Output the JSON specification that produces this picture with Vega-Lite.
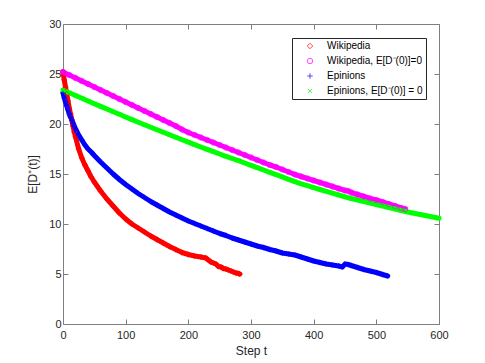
{
 "$schema": "https://vega.github.io/schema/vega-lite/v6.json",
 "width": 376, "height": 300,
 "autosize": {"type": "none"},
 "padding": {"left": 63, "top": 24, "right": 46, "bottom": 39},
 "background": "white",
 "config": {
  "font": "Liberation Sans",
  "view": {"stroke": "#7f7f7f", "strokeWidth": 1},
  "axis": {"domain": false, "grid": false, "labelFlush": false, "labelOverlap": false, "tickColor": "#7f7f7f", "tickSize": -5, "labelColor": "#262626", "labelFontSize": 11, "titleColor": "#262626", "titleFontSize": 12, "titleFontWeight": "normal", "labelFont": "Liberation Sans", "titleFont": "Liberation Sans"}
 },
 "data": {"values": [
  {"s":"Wikipedia","t":0,"v":25.2},{"s":"Wikipedia","t":2,"v":24.4},{"s":"Wikipedia","t":4,"v":23.7},{"s":"Wikipedia","t":6,"v":23.0},{"s":"Wikipedia","t":8,"v":22.3},{"s":"Wikipedia","t":10,"v":21.6},{"s":"Wikipedia","t":12,"v":21.0},{"s":"Wikipedia","t":14,"v":20.4},{"s":"Wikipedia","t":16,"v":19.8},{"s":"Wikipedia","t":18,"v":19.2},{"s":"Wikipedia","t":20,"v":18.7},{"s":"Wikipedia","t":25,"v":17.5},{"s":"Wikipedia","t":30,"v":16.6},{"s":"Wikipedia","t":35,"v":15.9},{"s":"Wikipedia","t":40,"v":15.3},{"s":"Wikipedia","t":45,"v":14.7},{"s":"Wikipedia","t":50,"v":14.2},{"s":"Wikipedia","t":60,"v":13.3},{"s":"Wikipedia","t":70,"v":12.5},{"s":"Wikipedia","t":80,"v":11.8},{"s":"Wikipedia","t":90,"v":11.1},{"s":"Wikipedia","t":100,"v":10.5},{"s":"Wikipedia","t":110,"v":10.0},{"s":"Wikipedia","t":120,"v":9.6},{"s":"Wikipedia","t":130,"v":9.2},{"s":"Wikipedia","t":140,"v":8.8},{"s":"Wikipedia","t":150,"v":8.45},{"s":"Wikipedia","t":160,"v":8.1},{"s":"Wikipedia","t":170,"v":7.75},{"s":"Wikipedia","t":180,"v":7.45},{"s":"Wikipedia","t":190,"v":7.15},{"s":"Wikipedia","t":200,"v":6.95},{"s":"Wikipedia","t":210,"v":6.8},{"s":"Wikipedia","t":220,"v":6.7},{"s":"Wikipedia","t":228,"v":6.6},{"s":"Wikipedia","t":232,"v":6.4},{"s":"Wikipedia","t":236,"v":6.2},{"s":"Wikipedia","t":240,"v":6.1},{"s":"Wikipedia","t":244,"v":6.0},{"s":"Wikipedia","t":248,"v":5.75},{"s":"Wikipedia","t":252,"v":5.7},{"s":"Wikipedia","t":256,"v":5.55},{"s":"Wikipedia","t":260,"v":5.5},{"s":"Wikipedia","t":264,"v":5.4},{"s":"Wikipedia","t":268,"v":5.3},{"s":"Wikipedia","t":272,"v":5.2},{"s":"Wikipedia","t":276,"v":5.1},{"s":"Wikipedia","t":280,"v":5.05},{"s":"Wikipedia","t":282,"v":5.0},

  {"s":"Wikipedia, E[D⁻(0)]=0","t":0,"v":25.2},{"s":"Wikipedia, E[D⁻(0)]=0","t":10,"v":24.9},{"s":"Wikipedia, E[D⁻(0)]=0","t":20,"v":24.6},{"s":"Wikipedia, E[D⁻(0)]=0","t":30,"v":24.3},{"s":"Wikipedia, E[D⁻(0)]=0","t":40,"v":24.0},{"s":"Wikipedia, E[D⁻(0)]=0","t":50,"v":23.7},{"s":"Wikipedia, E[D⁻(0)]=0","t":60,"v":23.4},{"s":"Wikipedia, E[D⁻(0)]=0","t":70,"v":23.1},{"s":"Wikipedia, E[D⁻(0)]=0","t":80,"v":22.8},{"s":"Wikipedia, E[D⁻(0)]=0","t":90,"v":22.5},{"s":"Wikipedia, E[D⁻(0)]=0","t":100,"v":22.2},{"s":"Wikipedia, E[D⁻(0)]=0","t":110,"v":21.9},{"s":"Wikipedia, E[D⁻(0)]=0","t":120,"v":21.6},{"s":"Wikipedia, E[D⁻(0)]=0","t":130,"v":21.3},{"s":"Wikipedia, E[D⁻(0)]=0","t":140,"v":21.0},{"s":"Wikipedia, E[D⁻(0)]=0","t":150,"v":20.7},{"s":"Wikipedia, E[D⁻(0)]=0","t":160,"v":20.4},{"s":"Wikipedia, E[D⁻(0)]=0","t":170,"v":20.1},{"s":"Wikipedia, E[D⁻(0)]=0","t":180,"v":19.8},{"s":"Wikipedia, E[D⁻(0)]=0","t":190,"v":19.45},{"s":"Wikipedia, E[D⁻(0)]=0","t":200,"v":19.15},{"s":"Wikipedia, E[D⁻(0)]=0","t":210,"v":18.9},{"s":"Wikipedia, E[D⁻(0)]=0","t":220,"v":18.65},{"s":"Wikipedia, E[D⁻(0)]=0","t":230,"v":18.4},{"s":"Wikipedia, E[D⁻(0)]=0","t":240,"v":18.15},{"s":"Wikipedia, E[D⁻(0)]=0","t":250,"v":17.9},{"s":"Wikipedia, E[D⁻(0)]=0","t":260,"v":17.65},{"s":"Wikipedia, E[D⁻(0)]=0","t":270,"v":17.4},{"s":"Wikipedia, E[D⁻(0)]=0","t":280,"v":17.15},{"s":"Wikipedia, E[D⁻(0)]=0","t":290,"v":16.9},{"s":"Wikipedia, E[D⁻(0)]=0","t":300,"v":16.65},{"s":"Wikipedia, E[D⁻(0)]=0","t":310,"v":16.4},{"s":"Wikipedia, E[D⁻(0)]=0","t":320,"v":16.15},{"s":"Wikipedia, E[D⁻(0)]=0","t":330,"v":15.9},{"s":"Wikipedia, E[D⁻(0)]=0","t":340,"v":15.7},{"s":"Wikipedia, E[D⁻(0)]=0","t":350,"v":15.45},{"s":"Wikipedia, E[D⁻(0)]=0","t":360,"v":15.2},{"s":"Wikipedia, E[D⁻(0)]=0","t":370,"v":14.95},{"s":"Wikipedia, E[D⁻(0)]=0","t":380,"v":14.75},{"s":"Wikipedia, E[D⁻(0)]=0","t":390,"v":14.55},{"s":"Wikipedia, E[D⁻(0)]=0","t":400,"v":14.35},{"s":"Wikipedia, E[D⁻(0)]=0","t":410,"v":14.15},{"s":"Wikipedia, E[D⁻(0)]=0","t":420,"v":13.95},{"s":"Wikipedia, E[D⁻(0)]=0","t":430,"v":13.75},{"s":"Wikipedia, E[D⁻(0)]=0","t":440,"v":13.55},{"s":"Wikipedia, E[D⁻(0)]=0","t":450,"v":13.35},{"s":"Wikipedia, E[D⁻(0)]=0","t":455,"v":13.3},{"s":"Wikipedia, E[D⁻(0)]=0","t":460,"v":13.15},{"s":"Wikipedia, E[D⁻(0)]=0","t":470,"v":12.95},{"s":"Wikipedia, E[D⁻(0)]=0","t":480,"v":12.75},{"s":"Wikipedia, E[D⁻(0)]=0","t":490,"v":12.55},{"s":"Wikipedia, E[D⁻(0)]=0","t":500,"v":12.4},{"s":"Wikipedia, E[D⁻(0)]=0","t":510,"v":12.2},{"s":"Wikipedia, E[D⁻(0)]=0","t":520,"v":12.0},{"s":"Wikipedia, E[D⁻(0)]=0","t":530,"v":11.8},{"s":"Wikipedia, E[D⁻(0)]=0","t":540,"v":11.6},{"s":"Wikipedia, E[D⁻(0)]=0","t":546,"v":11.5},

  {"s":"Epinions","t":0,"v":23.1},{"s":"Epinions","t":2,"v":22.6},{"s":"Epinions","t":4,"v":22.2},{"s":"Epinions","t":6,"v":21.8},{"s":"Epinions","t":8,"v":21.4},{"s":"Epinions","t":10,"v":21.0},{"s":"Epinions","t":12,"v":20.7},{"s":"Epinions","t":14,"v":20.4},{"s":"Epinions","t":16,"v":20.1},{"s":"Epinions","t":18,"v":19.8},{"s":"Epinions","t":20,"v":19.5},{"s":"Epinions","t":25,"v":18.9},{"s":"Epinions","t":30,"v":18.4},{"s":"Epinions","t":35,"v":17.9},{"s":"Epinions","t":40,"v":17.5},{"s":"Epinions","t":45,"v":17.2},{"s":"Epinions","t":50,"v":16.85},{"s":"Epinions","t":60,"v":16.2},{"s":"Epinions","t":70,"v":15.6},{"s":"Epinions","t":80,"v":15.0},{"s":"Epinions","t":90,"v":14.45},{"s":"Epinions","t":100,"v":13.95},{"s":"Epinions","t":110,"v":13.5},{"s":"Epinions","t":120,"v":13.05},{"s":"Epinions","t":130,"v":12.65},{"s":"Epinions","t":140,"v":12.25},{"s":"Epinions","t":150,"v":11.9},{"s":"Epinions","t":160,"v":11.55},{"s":"Epinions","t":170,"v":11.2},{"s":"Epinions","t":180,"v":10.9},{"s":"Epinions","t":190,"v":10.6},{"s":"Epinions","t":200,"v":10.3},{"s":"Epinions","t":210,"v":10.05},{"s":"Epinions","t":220,"v":9.8},{"s":"Epinions","t":230,"v":9.55},{"s":"Epinions","t":240,"v":9.3},{"s":"Epinions","t":250,"v":9.05},{"s":"Epinions","t":260,"v":8.85},{"s":"Epinions","t":270,"v":8.6},{"s":"Epinions","t":280,"v":8.4},{"s":"Epinions","t":290,"v":8.2},{"s":"Epinions","t":300,"v":8.0},{"s":"Epinions","t":310,"v":7.8},{"s":"Epinions","t":320,"v":7.65},{"s":"Epinions","t":330,"v":7.45},{"s":"Epinions","t":340,"v":7.3},{"s":"Epinions","t":350,"v":7.1},{"s":"Epinions","t":360,"v":7.0},{"s":"Epinions","t":370,"v":6.9},{"s":"Epinions","t":380,"v":6.7},{"s":"Epinions","t":390,"v":6.5},{"s":"Epinions","t":400,"v":6.3},{"s":"Epinions","t":410,"v":6.15},{"s":"Epinions","t":420,"v":6.0},{"s":"Epinions","t":430,"v":5.9},{"s":"Epinions","t":440,"v":5.8},{"s":"Epinions","t":446,"v":5.7},{"s":"Epinions","t":450,"v":6.0},{"s":"Epinions","t":455,"v":5.95},{"s":"Epinions","t":460,"v":5.85},{"s":"Epinions","t":470,"v":5.65},{"s":"Epinions","t":480,"v":5.45},{"s":"Epinions","t":490,"v":5.3},{"s":"Epinions","t":500,"v":5.15},{"s":"Epinions","t":510,"v":4.95},{"s":"Epinions","t":518,"v":4.8},

  {"s":"Epinions, E[D⁻(0)] = 0","t":0,"v":23.4},{"s":"Epinions, E[D⁻(0)] = 0","t":10,"v":23.12},{"s":"Epinions, E[D⁻(0)] = 0","t":20,"v":22.85},{"s":"Epinions, E[D⁻(0)] = 0","t":30,"v":22.58},{"s":"Epinions, E[D⁻(0)] = 0","t":40,"v":22.3},{"s":"Epinions, E[D⁻(0)] = 0","t":50,"v":22.03},{"s":"Epinions, E[D⁻(0)] = 0","t":60,"v":21.76},{"s":"Epinions, E[D⁻(0)] = 0","t":70,"v":21.5},{"s":"Epinions, E[D⁻(0)] = 0","t":80,"v":21.23},{"s":"Epinions, E[D⁻(0)] = 0","t":90,"v":20.97},{"s":"Epinions, E[D⁻(0)] = 0","t":100,"v":20.7},{"s":"Epinions, E[D⁻(0)] = 0","t":110,"v":20.44},{"s":"Epinions, E[D⁻(0)] = 0","t":120,"v":20.18},{"s":"Epinions, E[D⁻(0)] = 0","t":130,"v":19.92},{"s":"Epinions, E[D⁻(0)] = 0","t":140,"v":19.67},{"s":"Epinions, E[D⁻(0)] = 0","t":150,"v":19.42},{"s":"Epinions, E[D⁻(0)] = 0","t":160,"v":19.17},{"s":"Epinions, E[D⁻(0)] = 0","t":170,"v":18.92},{"s":"Epinions, E[D⁻(0)] = 0","t":180,"v":18.67},{"s":"Epinions, E[D⁻(0)] = 0","t":190,"v":18.42},{"s":"Epinions, E[D⁻(0)] = 0","t":200,"v":18.18},{"s":"Epinions, E[D⁻(0)] = 0","t":210,"v":17.94},{"s":"Epinions, E[D⁻(0)] = 0","t":220,"v":17.7},{"s":"Epinions, E[D⁻(0)] = 0","t":230,"v":17.46},{"s":"Epinions, E[D⁻(0)] = 0","t":240,"v":17.23},{"s":"Epinions, E[D⁻(0)] = 0","t":250,"v":17.0},{"s":"Epinions, E[D⁻(0)] = 0","t":260,"v":16.77},{"s":"Epinions, E[D⁻(0)] = 0","t":270,"v":16.55},{"s":"Epinions, E[D⁻(0)] = 0","t":280,"v":16.33},{"s":"Epinions, E[D⁻(0)] = 0","t":290,"v":16.1},{"s":"Epinions, E[D⁻(0)] = 0","t":300,"v":15.87},{"s":"Epinions, E[D⁻(0)] = 0","t":310,"v":15.64},{"s":"Epinions, E[D⁻(0)] = 0","t":320,"v":15.4},{"s":"Epinions, E[D⁻(0)] = 0","t":330,"v":15.17},{"s":"Epinions, E[D⁻(0)] = 0","t":340,"v":14.94},{"s":"Epinions, E[D⁻(0)] = 0","t":350,"v":14.71},{"s":"Epinions, E[D⁻(0)] = 0","t":360,"v":14.47},{"s":"Epinions, E[D⁻(0)] = 0","t":370,"v":14.24},{"s":"Epinions, E[D⁻(0)] = 0","t":380,"v":14.02},{"s":"Epinions, E[D⁻(0)] = 0","t":390,"v":13.83},{"s":"Epinions, E[D⁻(0)] = 0","t":400,"v":13.64},{"s":"Epinions, E[D⁻(0)] = 0","t":410,"v":13.45},{"s":"Epinions, E[D⁻(0)] = 0","t":420,"v":13.27},{"s":"Epinions, E[D⁻(0)] = 0","t":430,"v":13.08},{"s":"Epinions, E[D⁻(0)] = 0","t":440,"v":12.9},{"s":"Epinions, E[D⁻(0)] = 0","t":450,"v":12.72},{"s":"Epinions, E[D⁻(0)] = 0","t":460,"v":12.55},{"s":"Epinions, E[D⁻(0)] = 0","t":470,"v":12.4},{"s":"Epinions, E[D⁻(0)] = 0","t":480,"v":12.25},{"s":"Epinions, E[D⁻(0)] = 0","t":490,"v":12.1},{"s":"Epinions, E[D⁻(0)] = 0","t":500,"v":11.95},{"s":"Epinions, E[D⁻(0)] = 0","t":510,"v":11.8},{"s":"Epinions, E[D⁻(0)] = 0","t":520,"v":11.65},{"s":"Epinions, E[D⁻(0)] = 0","t":530,"v":11.5},{"s":"Epinions, E[D⁻(0)] = 0","t":540,"v":11.35},{"s":"Epinions, E[D⁻(0)] = 0","t":550,"v":11.2},{"s":"Epinions, E[D⁻(0)] = 0","t":560,"v":11.08},{"s":"Epinions, E[D⁻(0)] = 0","t":570,"v":10.95},{"s":"Epinions, E[D⁻(0)] = 0","t":580,"v":10.82},{"s":"Epinions, E[D⁻(0)] = 0","t":590,"v":10.7},{"s":"Epinions, E[D⁻(0)] = 0","t":600,"v":10.57}
 ]},
 "layer": [
  {
   "mark": {"type": "line", "strokeWidth": 5, "strokeJoin": "round", "strokeCap": "round"},
   "encoding": {
    "x": {"field": "t", "type": "quantitative", "scale": {"domain": [0, 600], "nice": false, "zero": false},
          "axis": {"orient": "bottom", "values": [0,100,200,300,400,500,600], "title": "Step t", "labelPadding": 10, "titlePadding": 5}},
    "y": {"field": "v", "type": "quantitative", "scale": {"domain": [0, 30], "nice": false},
          "axis": {"orient": "left", "values": [0,5,10,15,20,25,30], "title": "E[D⁺(t)]", "labelPadding": 7, "titlePadding": 9}},
    "stroke": {"field": "s", "type": "nominal",
               "scale": {"domain": ["Wikipedia", "Wikipedia, E[D⁻(0)]=0", "Epinions", "Epinions, E[D⁻(0)] = 0"], "range": ["#FF0000", "#FF00FF", "#0000FF", "#00FF00"]},
               "legend": null}
   }
  },
  {
   "mark": {"type": "point", "filled": false, "size": 30, "strokeWidth": 1},
   "encoding": {
    "x": {"field": "t", "type": "quantitative", "axis": null},
    "y": {"field": "v", "type": "quantitative", "axis": null},
    "color": {"field": "s", "type": "nominal",
              "scale": {"domain": ["Wikipedia", "Wikipedia, E[D⁻(0)]=0", "Epinions", "Epinions, E[D⁻(0)] = 0"], "range": ["#FF0000", "#FF00FF", "#0000FF", "#00FF00"]},
              "legend": {"title": null, "orient": "none", "legendX": 229, "legendY": 14, "strokeColor": "#262626", "fillColor": "white", "padding": 3, "labelFontSize": 10, "labelColor": "#000000", "labelFont": "Liberation Sans", "symbolSize": 30, "symbolStrokeWidth": 1, "rowPadding": 5, "symbolOffset": 10, "labelOffset": 12, "cornerRadius": 0, "labelExpr": "datum.label + '      '"}},
    "shape": {"field": "s", "type": "nominal",
              "scale": {"domain": ["Wikipedia", "Wikipedia, E[D⁻(0)]=0", "Epinions", "Epinions, E[D⁻(0)] = 0"], "range": ["diamond", "circle", "M-1,0L1,0M0,-1L0,1", "M-0.75,-0.75L0.75,0.75M-0.75,0.75L0.75,-0.75"]},
              "legend": {"title": null, "orient": "none", "legendX": 229, "legendY": 14, "labelExpr": "datum.label + '      '"}}
   }
  },
  {
   "mark": {"type": "point", "opacity": 0},
   "encoding": {
    "x": {"field": "t", "type": "quantitative", "axis": {"orient": "top", "values": [0,100,200,300,400,500,600], "labels": false, "title": null}},
    "y": {"field": "v", "type": "quantitative", "axis": {"orient": "right", "values": [0,5,10,15,20,25,30], "labels": false, "title": null}}
   }
  }
 ],
 "resolve": {"axis": {"x": "independent", "y": "independent"}, "legend": {"color": "independent", "shape": "independent", "stroke": "independent"}}
}
